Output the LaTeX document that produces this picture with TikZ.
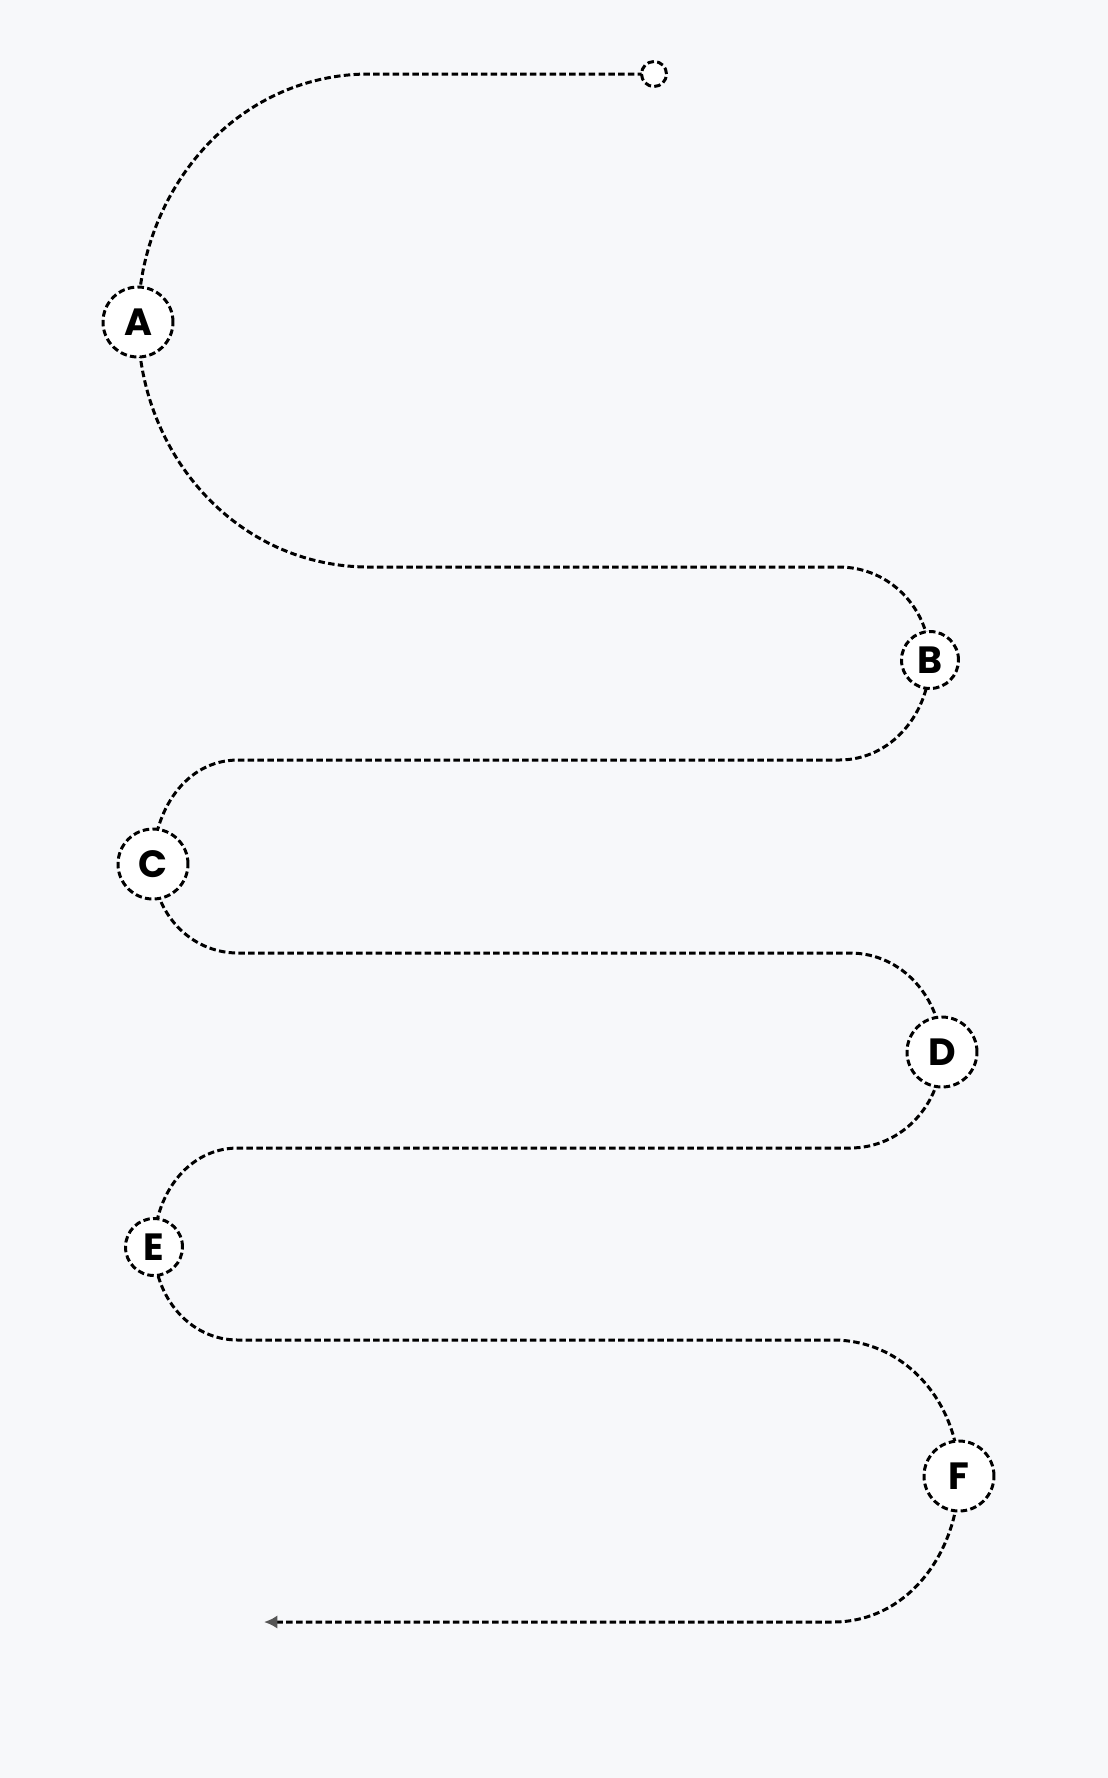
\documentclass[tikz,border=0pt]{standalone}
\usepackage{fontspec}
\setmainfont{Poppins}
\usepackage{xcolor}
\usetikzlibrary{arrows.meta}
\definecolor{bgpaper}{RGB}{247,248,250}
\definecolor{tipgray}{RGB}{85,85,85}
\pgfdeclarelayer{paper}
\pgfdeclarelayer{behind}
\pgfsetlayers{paper,behind,main}

\begin{document}
\begin{tikzpicture}[x=0.1mm,y=-0.1mm,
    trail/.style={line width=0.85pt, dash pattern=on 0.65mm off 0.33mm},
    waypoint/.style={circle, draw, fill=white, line width=0.85pt,
        dash pattern=on 0.65mm off 0.33mm, inner sep=0pt,
        font=\fontsize{10.8}{12}\selectfont\bfseries}]
    % Background
    \begin{pgfonlayer}{paper}
        \fill[bgpaper] (0,0) rectangle (1108,1778);
    \end{pgfonlayer}
    \useasboundingbox (0,0) rectangle (1108,1778);

    % Waypoints
    \node[waypoint, minimum size=2.5mm] (S) at (654,74) {};
    \node[waypoint, minimum size=7mm] (A) at (138,322) {A};
    \node[waypoint, minimum size=5.7mm] (B) at (930,660) {B};
    \node[waypoint, minimum size=7mm] (C) at (153,864) {C};
    \node[waypoint, minimum size=7mm] (D) at (942,1052) {D};
    \node[waypoint, minimum size=5.7mm] (E) at (154,1247) {E};
    \node[waypoint, minimum size=7mm] (F) at (959,1476) {F};
    \coordinate (end) at (264,1622);

    % Trail, behind the waypoints
    \begin{pgfonlayer}{behind}
    \draw[trail] (S.center) -- (369,74) to[out=180,in=90] (A.center);
    \draw[trail] (A.center) to[out=-90,in=180] (369,567) -- (839,567) to[out=0,in=90] (B.center);
    \draw[trail] (B.center) to[out=-90,in=0] (839,760) -- (238,760) to[out=180,in=90] (C.center);
    \draw[trail] (C.center) to[out=-90,in=180] (238,953) -- (850,953) to[out=0,in=90] (D.center);
    \draw[trail] (D.center) to[out=-90,in=0] (850,1148) -- (238,1148) to[out=180,in=90] (E.center);
    \draw[trail] (E.center) to[out=-90,in=180] (238,1340) -- (833,1340) to[out=0,in=90] (F.center);
    \draw[trail, -{Latex[length=3.8pt,width=3.8pt,color=tipgray]}]
        (F.center) to[out=-90,in=0] (833,1622) -- (end);
    \end{pgfonlayer}
\end{tikzpicture}
\end{document}
